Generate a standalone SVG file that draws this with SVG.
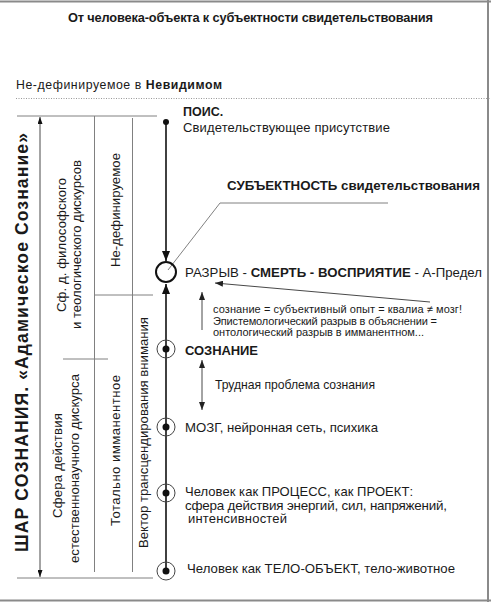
<svg xmlns="http://www.w3.org/2000/svg" width="491" height="602" viewBox="0 0 491 602">
<style>
text{font-family:"Liberation Sans",Arial,sans-serif;fill:#1a1a1a}
.b{font-weight:bold}
.g{stroke:#808080;stroke-width:1;fill:none}
.k{stroke:#111;stroke-width:1.6;fill:none}
.s{stroke:#333;stroke-width:0.9;fill:none}
.ring{stroke:#444;stroke-width:1;fill:none}
.dot{fill:#111}
.r{font-size:13.2px}
</style>
<defs>
<marker id="big" viewBox="0 0 10 8" refX="10" refY="4" markerWidth="10" markerHeight="8" markerUnits="userSpaceOnUse" orient="auto"><path d="M0,0L10,4L0,8z" fill="#111"/></marker>
<marker id="sm" viewBox="0 0 8 6" refX="8" refY="3" markerWidth="8" markerHeight="6" markerUnits="userSpaceOnUse" orient="auto-start-reverse"><path d="M0,0L8,3L0,6z" fill="#222"/></marker>
<marker id="tiny" viewBox="0 0 7 5" refX="7" refY="2.5" markerWidth="7" markerHeight="5" markerUnits="userSpaceOnUse" orient="auto-start-reverse"><path d="M0,0L7,2.5L0,5z" fill="#111"/></marker>
</defs>
<rect width="491" height="602" fill="#fff"/>
<g id="frame" stroke="#8a8a8a" stroke-width="2" fill="none">
<line x1="0" y1="1.5" x2="491" y2="1.5"/>
<line x1="488" y1="0" x2="488" y2="602"/>
<line x1="0" y1="600.5" x2="491" y2="600.5"/>
</g>
<g id="title"><text class="b" x="68" y="22" font-size="12.8" textLength="365">От человека-объекта к субъектности свидетельствования</text></g>
<g id="invisible"><text x="16" y="89" font-size="12.3" textLength="206">Не-дефинируемое в <tspan class="b">Невидимом</tspan></text>
<line x1="16" y1="98.5" x2="491" y2="98.5" stroke="#999" stroke-width="1" stroke-dasharray="1,1.5"/></g>
<g id="connectors">
<line class="g" x1="17" y1="116" x2="157" y2="116"/>
<line class="g" x1="17" y1="578" x2="153" y2="578"/>
<line class="s" x1="40" y1="117" x2="40" y2="577" marker-start="url(#tiny)" marker-end="url(#tiny)"/>
<line class="g" x1="94.5" y1="116" x2="94.5" y2="572"/>
<line class="g" x1="132.5" y1="118" x2="132.5" y2="572"/>
<line class="g" x1="95" y1="295" x2="153" y2="295"/>
<line class="g" x1="63" y1="359" x2="108" y2="359"/>
<line class="k" x1="166" y1="124" x2="166" y2="261" marker-end="url(#big)"/>
<line class="k" x1="166" y1="571" x2="166" y2="284" marker-end="url(#big)"/>
<polyline class="g" points="168,270 220,203 388,203"/>
<line class="s" x1="202" y1="330" x2="202" y2="292" marker-end="url(#sm)"/>
<line class="s" x1="430" y1="302" x2="215" y2="283" marker-end="url(#sm)"/>
<line class="s" x1="202" y1="360" x2="202" y2="410" marker-start="url(#sm)" marker-end="url(#sm)"/>
</g>
<g id="sphere"><text class="b" font-size="17.6" textLength="419" transform="translate(27.5,552) rotate(-90)">ШАР СОЗНАНИЯ. «Адамическое Сознание»</text></g>
<g id="philo"><text class="r" textLength="134" transform="translate(66,312) rotate(-90)">Сф. д. философского</text>
<text class="r" textLength="169" transform="translate(81,329) rotate(-90)">и теологического дискурсов</text></g>
<g id="undef"><text class="r" textLength="114" transform="translate(119.5,267) rotate(-90)">Не-дефинируемое</text></g>
<g id="science"><text class="r" textLength="105" transform="translate(62,518) rotate(-90)">Сфера действия</text>
<text class="r" textLength="189" transform="translate(79,563) rotate(-90)">естественнонаучного дискурса</text></g>
<g id="immanent"><text class="r" textLength="151" transform="translate(119.5,526) rotate(-90)">Тотально имманентное</text></g>
<g id="vector"><text class="r" textLength="231" transform="translate(148,548) rotate(-90)">Вектор трансцендирования внимания</text></g>
<g id="pois"><circle class="dot" cx="166" cy="122" r="3"/>
<text class="b" x="183" y="116" font-size="12.5">ПОИС.</text>
<text x="183" y="132" font-size="13" textLength="207">Свидетельствующее присутствие</text></g>
<g id="subject"><text class="b" x="227" y="190" font-size="13.3" textLength="253">СУБЪЕКТНОСТЬ свидетельствования</text></g>
<g id="rupture"><circle cx="166" cy="272" r="10" fill="none" stroke="#111" stroke-width="2"/>
<text x="185" y="277" font-size="13.2" textLength="297">РАЗРЫВ - <tspan class="b">СМЕРТЬ - ВОСПРИЯТИЕ</tspan> - А-Предел</text></g>
<g id="note"><text x="213" y="313" font-size="11" textLength="249">сознание = субъективный опыт = квалиа ≠ мозг!</text>
<text x="213" y="324.5" font-size="11" textLength="224">Эпистемологический разрыв в объяснении =</text>
<text x="213" y="336" font-size="11" textLength="211">онтологический разрыв в имманентном...</text></g>
<g id="consciousness"><circle class="ring" cx="166" cy="349" r="9"/><circle class="dot" cx="166" cy="349" r="3.5"/>
<text class="b" x="185" y="355" font-size="13" textLength="73">СОЗНАНИЕ</text></g>
<g id="hard"><text x="215" y="389" font-size="12.2" textLength="160">Трудная проблема сознания</text></g>
<g id="brain"><circle class="ring" cx="166" cy="427" r="9"/><circle class="dot" cx="166" cy="427" r="3.5"/>
<text x="185" y="432" font-size="13.2" textLength="193">МОЗГ, нейронная сеть, психика</text></g>
<g id="process"><circle class="ring" cx="166" cy="493" r="9"/><circle class="dot" cx="166" cy="493" r="3.5"/>
<text x="185" y="496" font-size="13" textLength="228">Человек как ПРОЦЕСС, как ПРОЕКТ:</text>
<text x="185" y="509.5" font-size="13.4" textLength="262">сфера действия энергий, сил, напряжений,</text>
<text x="188" y="523" font-size="13" textLength="99">интенсивностей</text></g>
<g id="body"><circle class="ring" cx="166" cy="571" r="9"/><circle class="dot" cx="166" cy="571" r="3.5"/>
<text x="187" y="573" font-size="13.2" textLength="268">Человек как ТЕЛО-ОБЪЕКТ, тело-животное</text></g>
</svg>
